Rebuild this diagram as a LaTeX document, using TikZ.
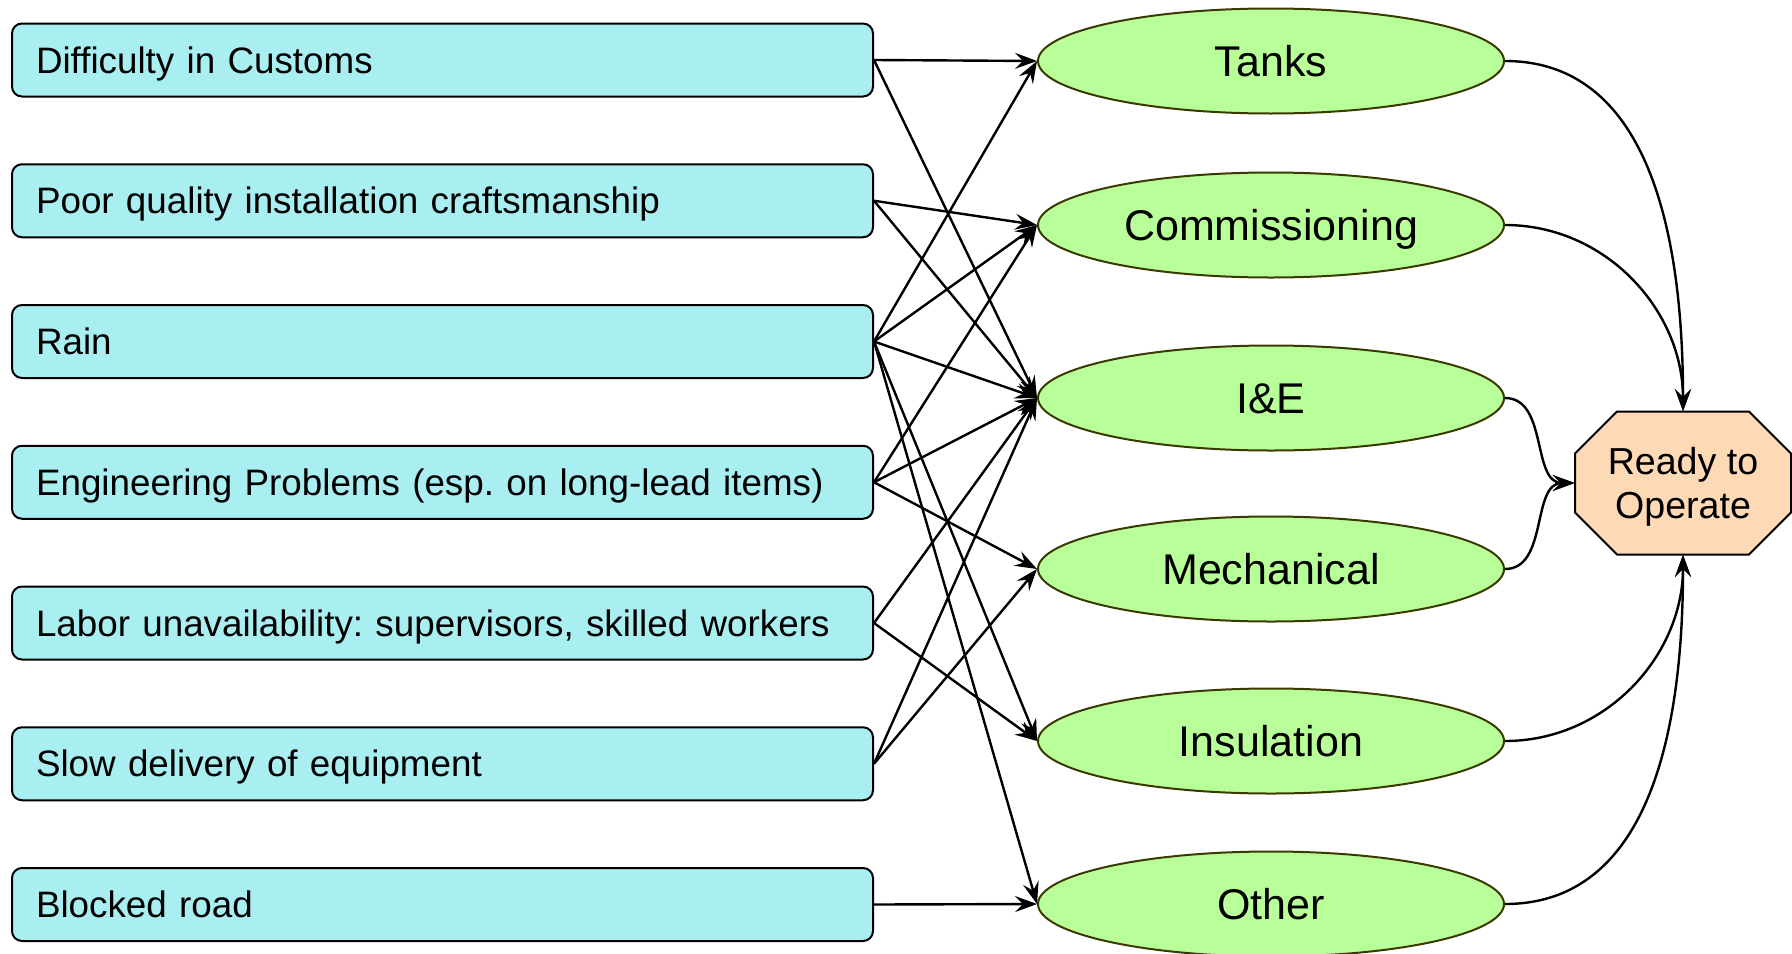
\documentclass[tikz,border=0pt]{standalone}
\usepackage{fontspec}
\setmainfont{Liberation Sans}
\usetikzlibrary{arrows.meta,shapes.geometric}
\definecolor{boxfill}{HTML}{A9EEF1}
\definecolor{ellfill}{HTML}{B9FF99}
\definecolor{ellline}{HTML}{3A3A00}
\definecolor{octfill}{HTML}{FDD9B5}
\frenchspacing
\begin{document}
\begin{tikzpicture}[x=0.5pt,y=-0.5pt,
  cause/.style={draw=black, line width=1pt, fill=boxfill, rounded corners=5pt,
    text width=406.5pt, inner xsep=12pt, inner ysep=0pt, minimum height=36.5pt,
    text height=17pt, text depth=3.8pt,
    align=left, font=\fontsize{18.4}{22}\selectfont},
  area/.style={ellipse, draw=ellline, line width=1pt, fill=ellfill,
    minimum width=233pt, minimum height=52.5pt, inner sep=0pt,
    text height=19pt, text depth=3.6pt,
    font=\fontsize{21.5}{25}\selectfont},
  link/.style={line width=1.2pt, -{Stealth[length=11pt,width=8pt,inset=4pt]}}
]
\useasboundingbox (0,0) rectangle (1792,953);
% causes
\node[cause] (b1) at (442.5,60) {Difficulty in Customs};
\node[cause] (b2) at (442.5,200.75) {Poor quality installation craftsmanship};
\node[cause] (b3) at (442.5,341.5) {Rain};
\node[cause] (b4) at (442.5,482.25) {Engineering Problems (esp. on long-lead items)};
\node[cause] (b5) at (442.5,623) {Labor unavailability: supervisors, skilled workers};
\node[cause] (b6) at (442.5,763.75) {Slow delivery of equipment};
\node[cause] (b7) at (442.5,904.5) {Blocked road};
% areas
\node[area] (e1) at (1271,61) {Tanks};
\node[area] (e2) at (1271,225) {Commissioning};
\node[area] (e3) at (1271,398) {I\&E};
\node[area] (e4) at (1271,569) {Mechanical};
\node[area] (e5) at (1271,741) {Insulation};
\node[area] (e6) at (1271,904) {Other};
% octagon
\filldraw[fill=octfill, draw=black, line width=1pt]
  (1617,411.5) -- (1749,411.5) -- (1791,453.5) -- (1791,512.5) -- (1749,554.5)
  -- (1617,554.5) -- (1575,512.5) -- (1575,453.5) -- cycle;
\node[minimum width=108pt, minimum height=71.5pt, inner sep=0pt] (rto) at (1683,483) {};
\node[align=center, inner sep=0pt, font=\fontsize{18.8}{22}\selectfont]
  (rtotext) at (1683,486.5) {Ready to\\Operate};
% links
\draw[link] (b1.east) -- (e1.west);
\draw[link] (b1.east) -- (e3.west);
\draw[link] (b2.east) -- (e2.west);
\draw[link] (b2.east) -- (e3.west);
\draw[link] (b3.east) -- (e1.west);
\draw[link] (b3.east) -- (e2.west);
\draw[link] (b3.east) -- (e3.west);
\draw[link] (b3.east) -- (e5.west);
\draw[link] (b3.east) -- (e6.west);
\draw[link] (b4.east) -- (e2.west);
\draw[link] (b4.east) -- (e3.west);
\draw[link] (b4.east) -- (e4.west);
\draw[link] (b5.east) -- (e3.west);
\draw[link] (b5.east) -- (e5.west);
\draw[link] (b6.east) -- (e3.west);
\draw[link] (b6.east) -- (e4.west);
\draw[link] (b7.east) -- (e6.west);
% to ready
\draw[link] (e1.east) to[out=0,in=90] (rto.north);
\draw[link] (e2.east) to[out=0,in=90] (rto.north);
\draw[link] (e3.east) to[out=0,in=180] (rto.west);
\draw[link] (e4.east) to[out=0,in=180] (rto.west);
\draw[link] (e5.east) to[out=0,in=-90] (rto.south);
\draw[link] (e6.east) to[out=0,in=-90] (rto.south);
\end{tikzpicture}
\end{document}
